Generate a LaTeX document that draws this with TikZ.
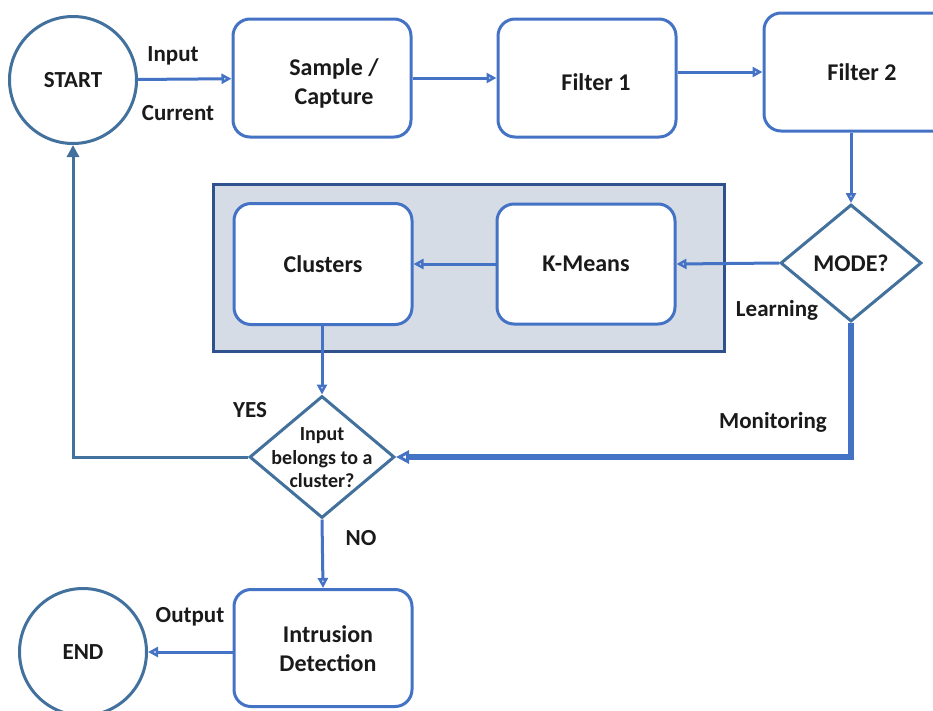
\documentclass[tikz,border=0pt]{standalone}
\usepackage{fontspec}
\setmainfont{Carlito}
\usetikzlibrary{shapes.geometric,arrows.meta,calc}
\definecolor{boxblue}{HTML}{4472C4}
\definecolor{steel}{HTML}{41719C}
\definecolor{panelfill}{HTML}{D6DCE5}
\definecolor{panelline}{HTML}{2F528F}
\definecolor{ink}{HTML}{1A1A1A}
\begin{document}
\begin{tikzpicture}[x=1pt,y=-1pt,
  every node/.style={font=\fontsize{24}{29}\selectfont\bfseries, text=ink},
  stepbox/.style={draw=boxblue, line width=3pt, fill=white, rounded corners=17pt,
    minimum width=178pt, minimum height=118pt, align=center},
  terminal/.style={draw=steel, line width=3pt, fill=white, circle, minimum size=127pt,
    font=\fontsize{23}{28}\selectfont\bfseries},
  decision/.style={draw=steel, line width=3pt, fill=white, diamond, inner sep=0pt},
  flow/.style={draw=boxblue, line width=3pt, -{Triangle[open,length=10pt,width=10pt]}},
  backflow/.style={draw=steel, line width=3pt, -{Triangle[length=12pt,width=12pt]}},
  heavy/.style={draw=boxblue, line width=6.5pt, -{Triangle[open,length=13pt,width=13pt,line width=3pt]}},
  tag/.style={font=\fontsize{23}{27}\selectfont\bfseries}]
\clip (0,0) rectangle (933,710);
\fill[white] (0,0) rectangle (933,710);

% learning panel
\draw[fill=panelfill, draw=panelline, line width=3pt] (213,184) rectangle (724,351);

% nodes
\node[terminal] (start) at (73,80) {START};
\node[stepbox] (sample) at (322,78) {};
\node[align=center] at (334,83) {Sample /\\Capture};
\node[stepbox] (f1) at (587,78) {};
\node at (596,82) {Filter 1};
\node[stepbox, minimum width=196pt] (f2) at (862,72) {Filter 2};
\node[decision, minimum width=141pt, minimum height=117pt] (mode) at (851,263) {};
\node at (mode) {MODE?};
\node[stepbox, minimum height=120pt] (km) at (586,264) {K-Means};
\node[stepbox, minimum height=121pt] (cl) at (323,264) {Clusters};
\node[decision, minimum width=145pt, minimum height=122pt] (dec) at (322,457) {};
\node[align=center, font=\fontsize{20}{23.5}\selectfont\bfseries] at ($(dec)+(0,1)$) {Input\\belongs to a\\cluster?};
\node[stepbox, minimum height=117pt] (ids) at (323,648) {};
\node[align=center] at (328,649) {Intrusion\\Detection};
\node[terminal] (end) at (83,652) {END};

% connectors
\draw[flow] (start) -- (sample);
\draw[flow] (sample) -- (f1);
\draw[flow] (f1.east |- f2.west) -- (f2.west);
\draw[flow] (mode.north |- f2.south) -- (mode.north);
\draw[flow] (mode.west) -- (km.east);
\draw[flow] (km.west) -- (km.west -| cl.east);
\draw[flow] (cl.south -| dec.north) -- (dec.north);
\draw[heavy] (mode.south) |- (dec.east);
\draw[backflow] (dec.west) -| (start.south);
\draw[flow] (dec.south) -- (ids.north);
\draw[flow] (ids.west |- end.east) -- (end.east);

% labels
\node[tag] at (173,56) {Input};
\node[tag] at (178,113) {Current};
\node[tag] at (777,310) {Learning};
\node[tag] at (773,422) {Monitoring};
\node[tag] at (250,410) {YES};
\node[tag] at (361,538) {NO};
\node[tag] at (190,617) {Output};
\end{tikzpicture}
\end{document}
